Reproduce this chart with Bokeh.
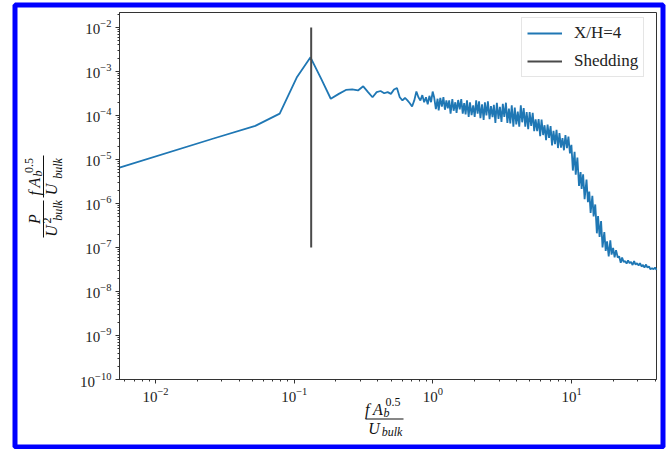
import math
from bokeh.plotting import figure
from bokeh.models import Label, BoxAnnotation, FixedTicker, Range1d
from bokeh.embed import file_html
from bokeh.resources import INLINE

# ---------------- data ----------------
# low-frequency part of the spectrum (individual bins)
F_LOW = [0.0055, 0.0262, 0.0524, 0.0786, 0.1048, 0.1310, 0.1572, 0.1834, 0.2096, 0.2358,
         0.2620, 0.2882, 0.3144, 0.3406, 0.3668, 0.3930, 0.4192, 0.4454, 0.4716, 0.4978,
         0.5240, 0.5502, 0.5764, 0.6026, 0.6288, 0.6550, 0.6812, 0.7074, 0.7336, 0.7598,
         0.7860, 0.8122, 0.8384, 0.8646, 0.8908, 0.9170, 0.9432, 0.9694, 0.9956]
P_LOW = [6.5e-6, 3.0e-5, 5.8e-5, 1.1e-4, 7.5e-4, 2.1e-3, 6.6e-4, 2.4e-4, 3.1e-4, 3.8e-4,
         3.9e-4, 3.7e-4, 4.6e-4, 3.4e-4, 2.6e-4, 3.4e-4, 3.6e-4, 3.2e-4, 3.4e-4, 3.1e-4,
         3.9e-4, 4.2e-4, 2.6e-4, 2.2e-4, 2.5e-4, 2.2e-4, 1.9e-4, 1.6e-4, 2.2e-4, 3.5e-4,
         2.6e-4, 2.2e-4, 2.9e-4, 2.0e-4, 2.6e-4, 1.8e-4, 2.8e-4, 2.0e-4, 3.5e-4]

# high-frequency part (noisy band)
F_HIGH = [1.02, 1.05, 1.08, 1.10, 1.13, 1.16, 1.19, 1.22, 1.25, 1.28,
          1.31, 1.34, 1.38, 1.41, 1.45, 1.48, 1.52, 1.56, 1.60, 1.64,
          1.68, 1.72, 1.76, 1.81, 1.85, 1.90, 1.95, 2.00, 2.05, 2.10,
          2.15, 2.20, 2.26, 2.32, 2.37, 2.43, 2.49, 2.56, 2.62, 2.69,
          2.75, 2.82, 2.89, 2.97, 3.04, 3.12, 3.19, 3.27, 3.36, 3.44,
          3.53, 3.61, 3.70, 3.80, 3.89, 3.99, 4.09, 4.19, 4.30, 4.40,
          4.51, 4.63, 4.74, 4.86, 4.98, 5.11, 5.24, 5.37, 5.50, 5.64,
          5.78, 5.93, 6.07, 6.23, 6.38, 6.54, 6.71, 6.87, 7.05, 7.22,
          7.40, 7.59, 7.78, 7.97, 8.17, 8.38, 8.59, 8.80, 9.02, 9.25,
          9.48, 9.72, 9.96, 10.2, 10.5, 10.7, 11.0, 11.3, 11.6, 11.8,
          12.1, 12.4, 12.8, 13.1, 13.4, 13.7, 14.1, 14.4, 14.8, 15.2,
          15.5, 15.9, 16.3, 16.7, 17.2, 17.6, 18.0, 18.5, 19.0, 19.4,
          19.9, 20.4, 20.9, 21.5, 22.0, 22.6, 23.1, 23.7, 24.3, 24.9,
          25.5, 26.2, 26.8, 27.5, 28.2, 28.9, 29.6, 30.4, 31.1, 31.9,
          32.7, 33.5, 34.4, 35.2, 36.1, 37.0, 38.0, 38.9, 39.9, 40.9]
P_HIGH = [2.6e-4, 1.4e-4, 2.4e-4, 1.3e-4, 2.5e-4, 1.6e-4, 2.6e-4, 1.35e-4, 2.2e-4, 1.45e-4,
          2.2e-4, 1.1e-4, 2.35e-4, 1.28e-4, 2.0e-4, 1.14e-4, 2.25e-4, 1.38e-4, 2.35e-4, 1.1e-4,
          1.9e-4, 1.06e-4, 2.2e-4, 9.3e-5, 2.0e-4, 1.02e-4, 1.7e-4, 9.3e-5, 2.2e-4, 1.1e-4,
          2.1e-4, 8.7e-5, 1.8e-4, 7.9e-5, 2.0e-4, 1.0e-4, 2.1e-4, 8.3e-5, 1.64e-4, 9.2e-5,
          1.75e-4, 6.8e-5, 1.95e-4, 8.4e-5, 1.58e-4, 7.1e-5, 1.85e-4, 9.3e-5, 1.95e-4, 6.8e-5,
          1.44e-4, 6.6e-5, 1.7e-4, 5.6e-5, 1.52e-4, 6.3e-5, 1.22e-4, 5.6e-5, 1.7e-4, 7.0e-5,
          1.48e-4, 5.6e-5, 1.19e-4, 4.9e-5, 1.2e-4, 5.8e-5, 1.15e-4, 4.4e-5, 8.2e-5, 4.4e-5,
          8.3e-5, 3.4e-5, 8.1e-5, 3.6e-5, 6.0e-5, 2.75e-5, 6.2e-5, 3.1e-5, 5.75e-5, 2.1e-5,
          4.45e-5, 2.24e-5, 4.7e-5, 1.82e-5, 4.0e-5, 1.86e-5, 3.06e-5, 1.62e-5, 3.6e-5, 1.82e-5,
          3.3e-5, 1.37e-5, 2.15e-5, 5.6e-6, 1.5e-5, 4.5e-6, 1.1e-5, 2.5e-6, 5.2e-6, 2.15e-6,
          4.6e-6, 1.26e-6, 3.5e-6, 1.07e-6, 1.87e-6, 6.1e-7, 1.49e-6, 5.1e-7, 9.5e-7, 2.1e-7,
          5.2e-7, 1.74e-7, 4.0e-7, 1.0e-7, 2.25e-7, 8.4e-8, 1.38e-7, 6.3e-8, 1.45e-7, 6.9e-8,
          9.8e-8, 6.0e-8, 8.7e-8, 5.9e-8, 6.3e-8, 4.5e-8, 5.9e-8, 4.7e-8, 4.9e-8, 4.3e-8,
          5.1e-8, 4.4e-8, 4.7e-8, 4.0e-8, 4.9e-8, 4.1e-8, 4.4e-8, 3.9e-8, 4.4e-8, 3.7e-8,
          4.0e-8, 3.5e-8, 4.1e-8, 3.5e-8, 3.7e-8, 3.2e-8, 3.4e-8, 3.2e-8, 3.5e-8, 3.1e-8]

SERIES_LABEL = "X/H=4"
SHED_LABEL = "Shedding"
SHED_F = [0.1325, 0.1325]
SHED_P = [1e-7, 1e-2]

X_LIM = (0.0055, 40.9)
Y_LIM = (1e-10, 0.0219)
X_DECADES = [-2, -1, 0, 1]
Y_DECADES = [-10, -9, -8, -7, -6, -5, -4, -3, -2]

freq = F_LOW + F_HIGH
psd = P_LOW + P_HIGH

SERIF = "Liberation Serif"
INK = "#222222"
SPINE = "#333333"

# ---------------- layout: plot box in canvas pixels ----------------
W, H = 672, 449
BOX_L, BOX_R, BOX_T, BOX_B = 119, 656, 12, 379

# the frame covers the whole canvas; ranges are widened so that the
# axis limits fall on the plot-box edges
lx0, lx1 = math.log10(X_LIM[0]), math.log10(X_LIM[1])
ly0, ly1 = math.log10(Y_LIM[0]), math.log10(Y_LIM[1])
kx = (lx1 - lx0) / (BOX_R - BOX_L)
ky = (ly1 - ly0) / (BOX_B - BOX_T)
xr = Range1d(10 ** (lx0 - BOX_L * kx), 10 ** (lx1 + (W - BOX_R) * kx))
yr = Range1d(10 ** (ly0 - (H - BOX_B) * ky), 10 ** (ly1 + BOX_T * ky))

p = figure(width=W, height=H, x_axis_type="log", y_axis_type="log",
           x_range=xr, y_range=yr, output_backend="svg", toolbar_location=None,
           min_border=0, min_border_left=0, min_border_right=0,
           min_border_top=0, min_border_bottom=0)
p.background_fill_color = "white"
p.border_fill_color = "white"
p.xgrid.visible = False
p.ygrid.visible = False
p.outline_line_color = None

p.line(freq, psd, line_color="#1f77b4", line_width=1.8, legend_label=SERIES_LABEL)
p.line(SHED_F, SHED_P, line_color="#4a4a4a", line_width=2, legend_label=SHED_LABEL)


def minor_for(decs, lo, hi):
    out = []
    for e in range(min(decs) - 1, max(decs) + 2):
        for m in range(2, 10):
            v = m * 10.0 ** e
            if lo <= v <= hi:
                out.append(v)
    return out


p.xaxis.ticker = FixedTicker(ticks=[10.0 ** e for e in X_DECADES],
                             minor_ticks=minor_for(X_DECADES, *X_LIM))
p.yaxis.ticker = FixedTicker(ticks=[10.0 ** e for e in Y_DECADES],
                             minor_ticks=minor_for(Y_DECADES, *Y_LIM))
p.xaxis.fixed_location = Y_LIM[0]
p.yaxis.fixed_location = X_LIM[0]
p.xaxis.bounds = X_LIM
p.yaxis.bounds = Y_LIM

for ax in (p.xaxis[0], p.yaxis[0]):
    ax.axis_line_color = SPINE
    ax.major_tick_line_color = SPINE
    ax.minor_tick_line_color = SPINE
    ax.major_tick_out = 4
    ax.major_tick_in = 0
    ax.minor_tick_out = 2
    ax.minor_tick_in = 0
    ax.major_label_text_font = SERIF
    ax.major_label_text_font_size = "15px"
    ax.major_label_text_color = INK
    ax.major_label_standoff = 4

# plot box (top and right spines)
p.add_layout(BoxAnnotation(left=X_LIM[0], right=X_LIM[1], bottom=Y_LIM[0], top=Y_LIM[1],
                           fill_alpha=0, line_color=SPINE, line_alpha=1, line_width=1,
                           level="underlay"))

leg = p.legend[0]
leg.location = (521, H - 77)
leg.padding = 5
leg.spacing = 8
leg.glyph_width = 35
leg.glyph_height = 18
leg.label_height = 18
leg.label_standoff = 12
leg.label_text_font = SERIF
leg.label_text_font_size = "17px"
leg.label_text_color = INK
leg.border_line_color = "#cccccc"
leg.border_line_width = 1
leg.background_fill_alpha = 0.85


def txt(text, px, py, size, italic=True, angle=0.0):
    p.add_layout(Label(x=px, y=H - py, x_units="screen", y_units="screen",
                       text=text, text_font=SERIF, text_font_size=f"{size}px",
                       text_font_style="italic" if italic else "normal",
                       text_align="center", text_baseline="middle",
                       angle=angle, text_color="#111111"))


def bar(x0, x1, y0, y1):
    p.add_layout(BoxAnnotation(left=x0, right=x1, top=H - y0, bottom=H - y1,
                               left_units="screen", right_units="screen",
                               top_units="screen", bottom_units="screen",
                               fill_color="#111111", fill_alpha=1, line_alpha=0))


R = math.pi / 2
# y-axis label: P/U_bulk^2 * f A_b^0.5 / U_bulk (rotated)
txt("P", 33.5, 218.5, 16, True, R)
bar(42.5, 43.5, 200, 237)
txt("U", 50.5, 230.5, 16, True, R)
txt("2", 46.5, 220, 12, False, R)
txt("bulk", 57.5, 210, 12, True, R)
bar(42.5, 43.5, 155, 197)
txt("f A", 33.5, 186, 16, True, R)
txt("b", 37, 173, 12, True, R)
txt("0.5", 28.5, 165, 12, False, R)
txt("U", 50.5, 189, 16, True, R)
txt("bulk", 57.5, 168, 12, True, R)

# x-axis label: f A_b^0.5 / U_bulk
txt("f A", 373.5, 409, 16, True)
txt("b", 386, 412.5, 12, True)
txt("0.5", 392.5, 401.5, 12, False)
bar(365, 403, 418, 419)
txt("U", 373.5, 428, 16, True)
txt("bulk", 391.5, 431.5, 12, True)

# blue frame around the whole picture
p.add_layout(BoxAnnotation(left=14.5, right=662.5, top=H - 4.5, bottom=H - 446.5,
                           left_units="screen", right_units="screen",
                           top_units="screen", bottom_units="screen",
                           fill_alpha=0, line_color="#0000ff", line_alpha=1,
                           line_width=5, level="overlay"))

open("out.html", "w").write(file_html(p, INLINE))
